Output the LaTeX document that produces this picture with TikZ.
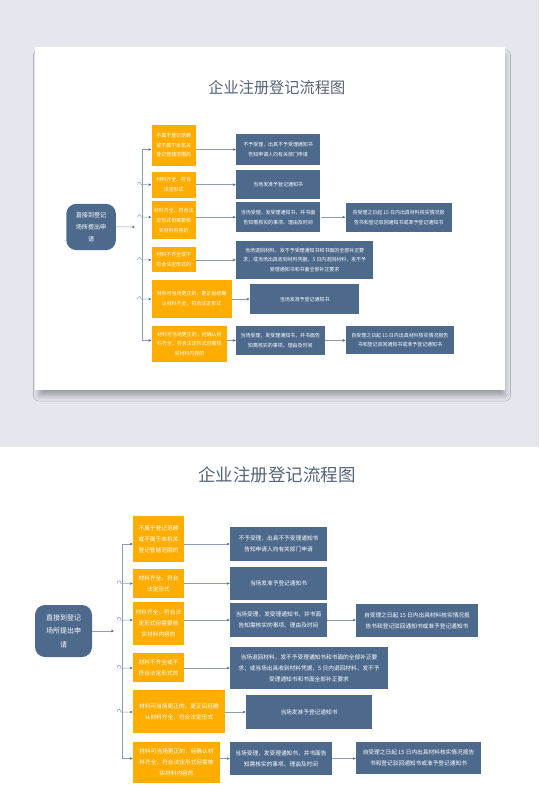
\documentclass[tikz,border=0pt]{standalone}
\usepackage{fontspec}
\setmainfont{Noto Sans CJK SC}
\usepackage{xcolor}
\usetikzlibrary{arrows.meta, calc, shadows.blur}
\definecolor{slate}{HTML}{4D6A8D}
\definecolor{amber}{HTML}{FFAD00}
\definecolor{titlegray}{HTML}{55647A}
\definecolor{linkgray}{HTML}{8A9DB4}
\definecolor{pagegray}{HTML}{E4E8EE}

% the whole chart, in pixel coordinates of the lower copy
\newcommand{\regchart}{%
  \node[heading] (title) at (277,474.5) {企业注册登记流程图};
  \node[startbox] (start) at (63.5,631) {直接到登记\\场所提出申\\请};

  \node[condbox, minimum width=51pt, minimum height=46pt] (o1) at (158.5,539)   {不属于登记范畴\\或不属于本机关\\登记管辖范围的};
  \node[condbox, minimum width=51pt, minimum height=29pt] (o2) at (158.5,583.5) {材料齐全、符合\\法定形式};
  \node[condbox, minimum width=51pt, minimum height=43pt] (o3) at (158.5,623.5) {材料齐全，符合法\\定形式但需要核\\实材料内容的};
  \node[condbox, minimum width=51pt, minimum height=29pt] (o4) at (158.5,667.5) {材料不齐全或不\\符合法定形式的};
  \node[condbox, minimum width=92pt, minimum height=43pt] (o5) at (179,711.5)   {材料可当场更正的，更正后经确\\认材料齐全，符合法定形式};
  \node[condbox, minimum width=87pt, minimum height=41pt] (o6) at (176.5,762.5) {材料可当场更正的，经确认材\\料齐全，符合法定形式但需核\\实材料内容的};

  \node[resbox, minimum width=97pt,  minimum height=34pt] (b1) at (278.5,544)   {不予受理，出具不予受理通知书\\告知申请人向有关部门申请};
  \node[resbox, minimum width=97pt,  minimum height=33pt] (b2) at (278.5,583.5) {当场发准予登记通知书};
  \node[resbox, minimum width=97pt,  minimum height=34pt] (b3) at (278.5,620)   {当场受理，发受理通知书，并书面\\告知需核实的事项、理由及时间};
  \node[resbox, minimum width=158pt, minimum height=42pt] (b4) at (309,668)     {当场退回材料，发不予受理通知书和书面的全部补正要\\求；或当场出具收到材料凭据，5 日内退回材料，发不予\\受理通知书和书面全部补正要求};
  \node[resbox, minimum width=126pt, minimum height=34pt] (b5) at (309,712)     {当场发准予登记通知书};
  \node[resbox, minimum width=102pt, minimum height=33pt] (b6) at (281,758.5)   {当场受理，发受理通知书，并书面告\\知需核实的事项、理由及时间};

  \node[resbox, minimum width=122pt, minimum height=33pt] (r3) at (417,620.5)   {自受理之日起 15 日内出具材料核实情况报\\告书和登记驳回通知书或准予登记通知书};
  \node[resbox, minimum width=125pt, minimum height=32pt] (r6) at (418.5,758)   {自受理之日起 15 日内出具材料核实情况报告\\书和登记驳回通知书或准予登记通知书};

  % trunk and branches
  \coordinate (sp) at (114,631);
  \coordinate (tr) at (122,544);
  \coordinate (tb) at (122,758.5);
  \draw[arr] (start) -- (sp);
  \draw[arr] (tr) -- (o1.west |- tr);
  \draw[arr] (tr) -- (tb) -- (o6.west |- tb);
  \foreach \i in {2,...,5}{
    \coordinate (j\i) at ($(tr |- b\i) + (-5,0)$);
    \draw[arr] (j\i) .. controls +(0,-3.5) and +(0,-3.5) .. ($(j\i) + (4,0)$) -- (o\i.west |- b\i);
  }
  \foreach \i in {1,...,6}
    \draw[arr] (o\i.east |- b\i) -- (b\i.west);
  \draw[arr] (b3.east) -- (b3.east -| r3.west);
  \draw[arr] (b6.east) -- (b6.east -| r6.west);
}

\begin{document}
\begin{tikzpicture}[
    x=1pt, y=-1pt,
    heading/.style={font=\fontsize{17.5}{20}\selectfont, text=titlegray},
    startbox/.style={fill=slate, text=white, rounded corners=10pt, align=center,
      minimum width=57pt, minimum height=52pt, inner sep=0pt,
      font=\fontsize{7}{13.5}\selectfont},
    condbox/.style={fill=amber, text=white, align=center, inner sep=0pt,
      font=\fontsize{5.7}{11}\selectfont},
    resbox/.style={fill=slate, text=white, align=center, inner sep=0pt,
      font=\fontsize{5.7}{11}\selectfont},
    arr/.style={draw=linkgray, line width=0.5pt,
      -{Stealth[length=3pt, width=2.6pt, color=slate]}},
  ]
  \useasboundingbox (0,0) rectangle (539,812);
  \fill[white] (0,0) rectangle (539,812);
  \fill[pagegray] (0,0) rectangle (539,447);
  \fill[white, blur shadow={shadow xshift=2pt, shadow yshift=-7pt,
      shadow blur radius=6pt, shadow opacity=35, shadow scale=0.99}]
    (35,47) rectangle (505,390);

  % upper copy on the card
  \begin{scope}[shift={(35.85,-334.6)}, xscale=0.87, yscale=0.89,
      transform shape, name prefix=top-]
    \regchart
  \end{scope}

  % lower copy
  \begin{scope}[name prefix=low-]
    \regchart
  \end{scope}
\end{tikzpicture}
\end{document}
